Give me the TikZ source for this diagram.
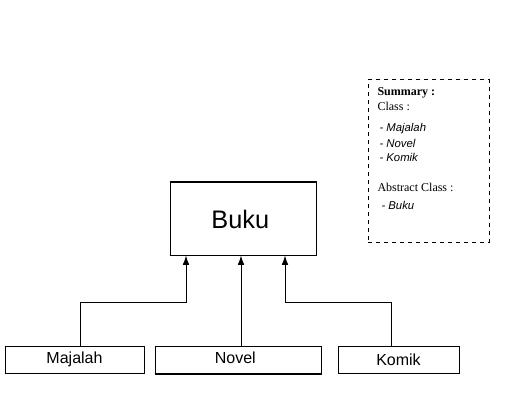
\documentclass[tikz,border=0pt]{standalone}
\usepackage{fontspec}
\setmainfont{Liberation Serif}
\setsansfont{Liberation Sans}
\usetikzlibrary{calc,arrows.meta}

\begin{document}
\begin{tikzpicture}[x=0.75pt,y=-0.75pt,line width=0.75pt,
  kelas/.style={draw,rectangle,inner sep=0pt,font=\sffamily\fontsize{12}{14}\selectfont},
  teks/.style={anchor=west,inner sep=0pt,font=\fontsize{9}{10}\selectfont},
  daftar/.style={anchor=west,inner sep=0pt,font=\sffamily\itshape\fontsize{8.5}{10}\selectfont},
  panah/.style={-{Latex[length=7pt,width=5pt]}}]
 \useasboundingbox (0,0) rectangle (507,406);
 \node[kelas,minimum width=146*0.75pt,minimum height=72*0.75pt,font=\sffamily\fontsize{19}{22}\selectfont] (buku) at (243,219) {\hspace*{-4pt}Buku}; %kelas abstrak
 \draw[line width=1.5pt] (buku.north west)--(buku.north east);
 \node[kelas,minimum width=139*0.75pt,minimum height=27*0.75pt] (majalah) at (74.5,359.5) {\raisebox{-2pt}{Majalah}};
 \node[kelas,minimum width=166*0.75pt,minimum height=27*0.75pt] (novel) at (238,359.5) {\raisebox{2pt}{Novel}\hspace*{4pt}};
 \draw[line width=1.5pt] (novel.south west)--(novel.south east);
 \node[kelas,minimum width=121*0.75pt,minimum height=27*0.75pt] (komik) at (398.5,359.5) {Komik};
 %panah ke Buku
 \coordinate (b1) at ($(buku.south)+(-57,0)$);
 \coordinate (b2) at ($(buku.south)+(-2,0)$);
 \coordinate (b3) at ($(buku.south)+(42,0)$);
 \draw[panah] ($(majalah.north)+(5.5,0)$)|-(186,302)--(b1);
 \draw[panah] ($(novel.north)+(3,0)$)--(b2);
 \draw[panah] ($(komik.north)+(-7.5,0)$)|-(285,302)--(b3);
 %ringkasan
 \node[draw,dashed,minimum width=121*0.75pt,minimum height=162*0.75pt] (ringkasan) at (428.5,161) {};
 \node[teks,font=\bfseries\fontsize{9}{10}\selectfont] (s1) at (377,93) {Summary :};
 \node[teks] (s2) at (377,106) {Class :};
 \node[daftar] (s3) at (379,129) {- Majalah};
 \node[daftar] (s4) at (379,143) {- Novel};
 \node[daftar] (s5) at (379,157) {- Komik};
 \node[teks] (s6) at (377,187) {Abstract Class :};
 \node[daftar] (s7) at (381,205) {- Buku};
\end{tikzpicture}
\end{document}
